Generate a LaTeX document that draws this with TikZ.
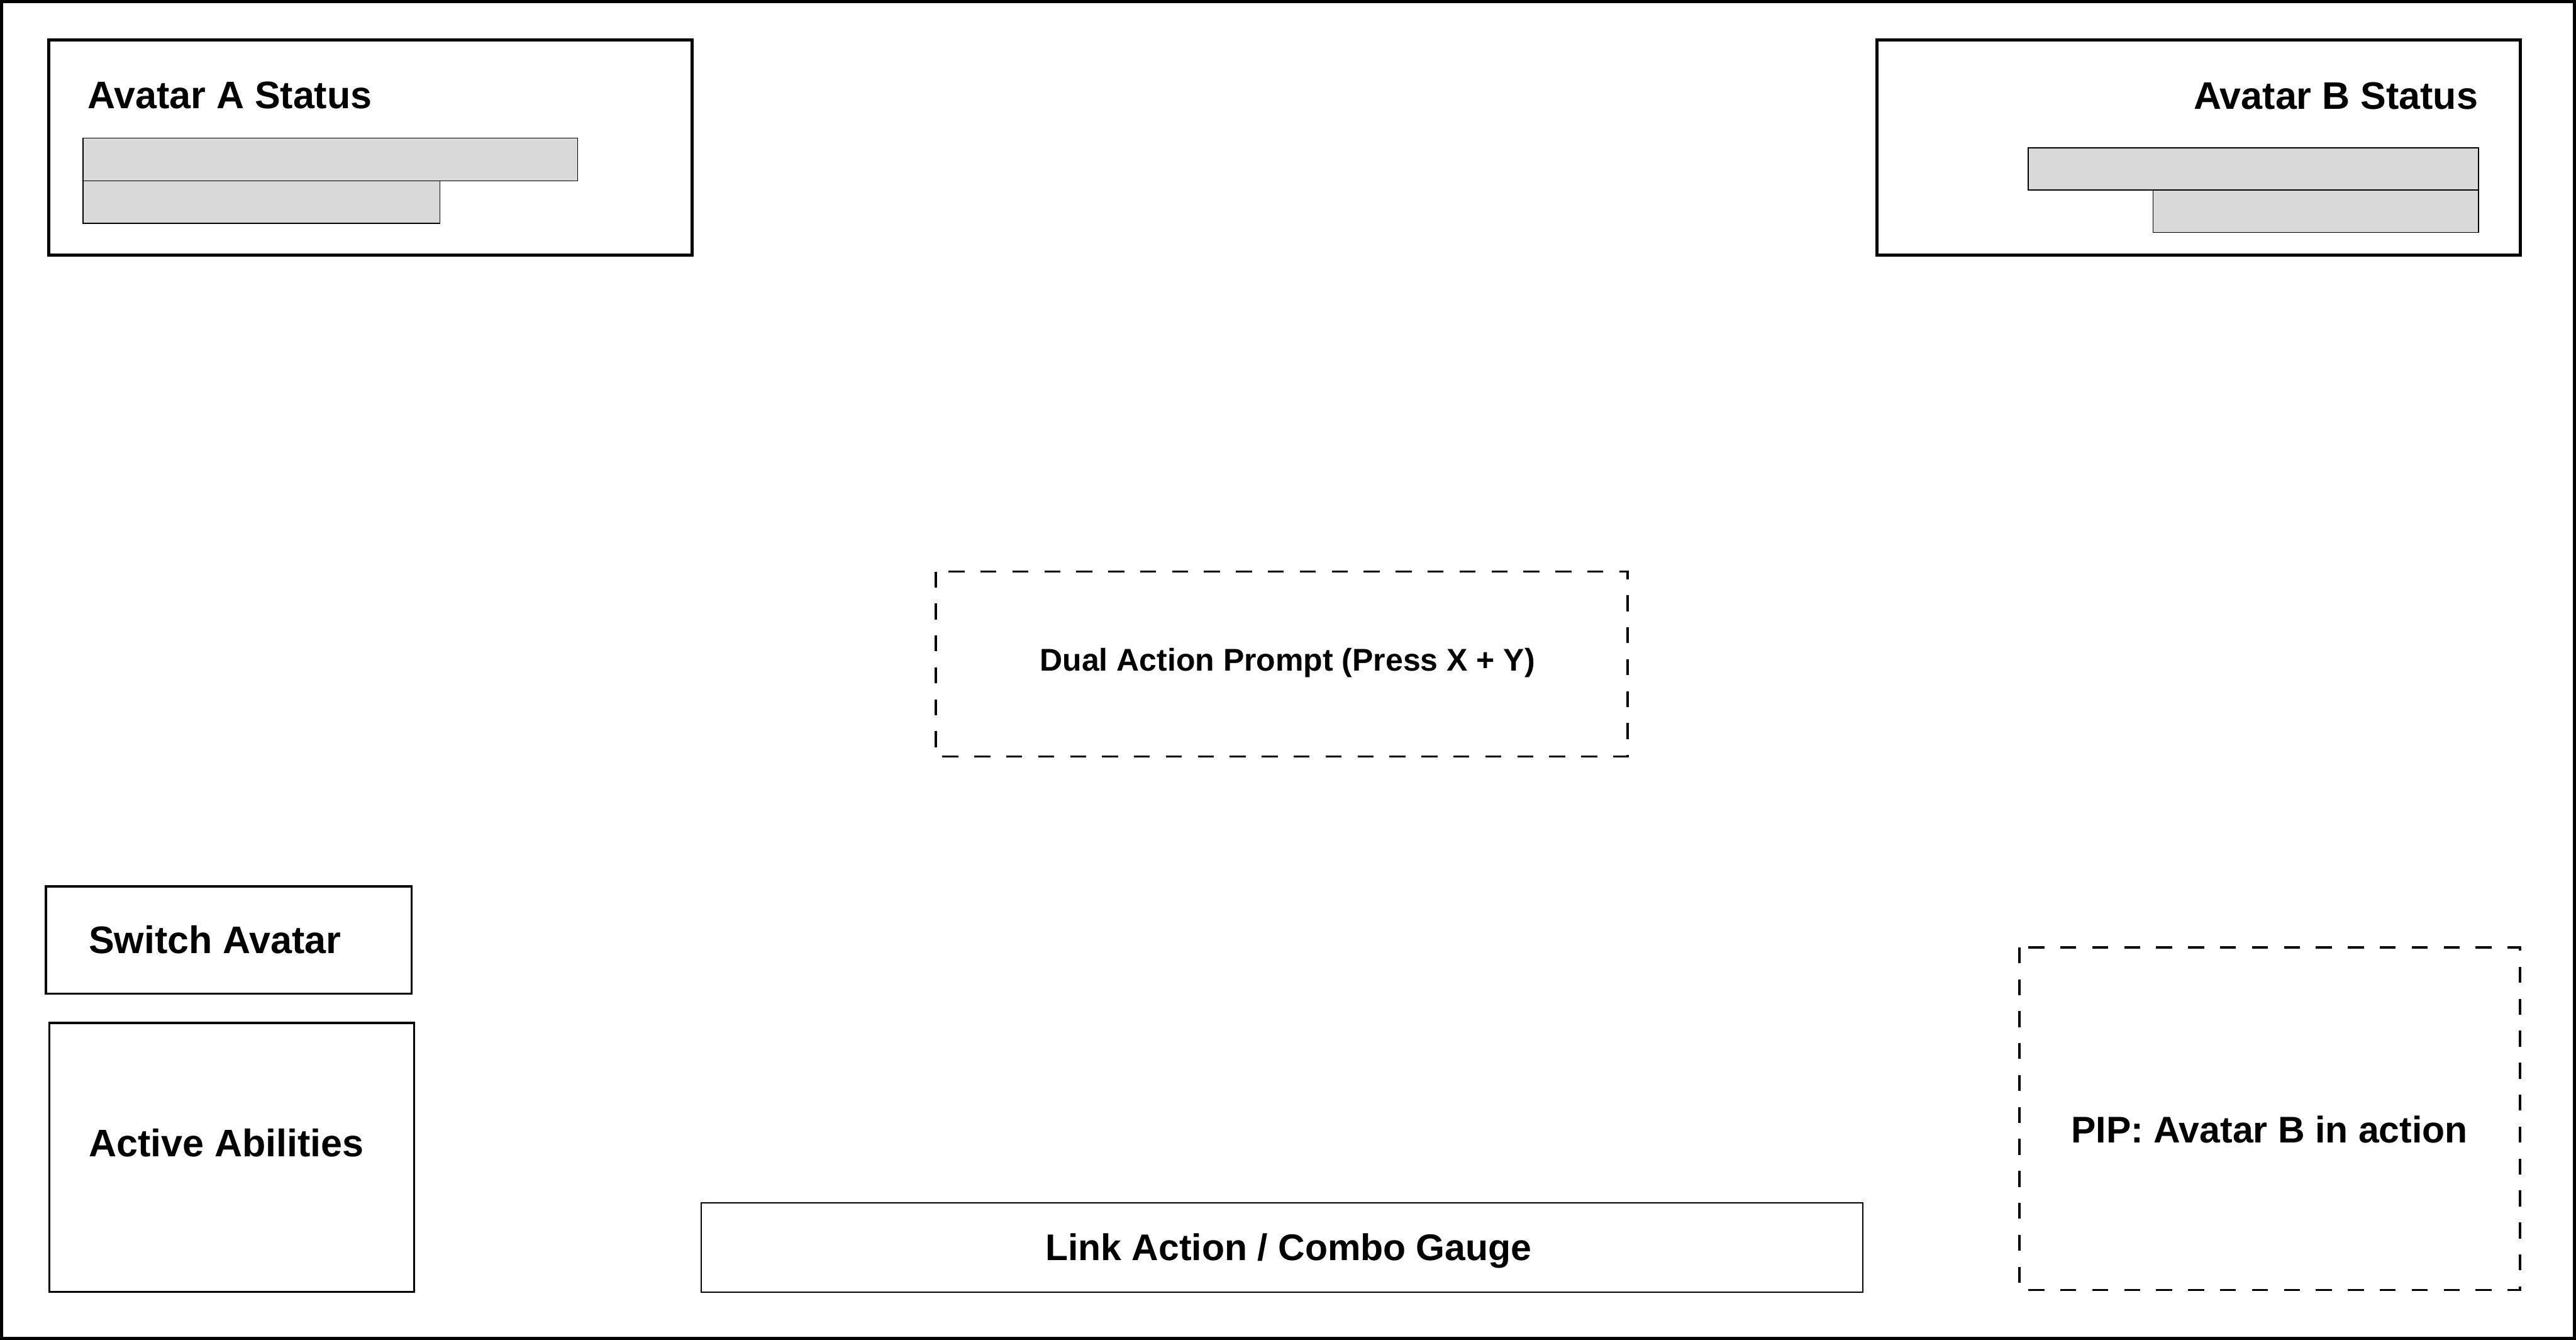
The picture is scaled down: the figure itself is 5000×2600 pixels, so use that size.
\documentclass[tikz,border=0pt]{standalone}
\usepackage{fontspec}
\setmainfont{Liberation Sans}
\begin{document}
\begin{tikzpicture}[x=1pt,y=-1pt,
  panel/.style={draw=black, line width=6pt, fill=none},
  mid/.style={draw=black, line width=4pt},
  thin/.style={draw=black, line width=2.5pt},
  bar/.style={draw=black, line width=2pt, fill=barfill},
  dashbox/.style={draw=black, line width=4.5pt, dash pattern=on 31pt off 31pt},
  lbl/.style={font=\bfseries\fontsize{72}{80}\selectfont, inner sep=0pt},
  wlbl/.style={font=\bfseries\fontsize{74.5}{82}\selectfont, inner sep=0pt},
  slbl/.style={font=\bfseries\fontsize{61}{70}\selectfont, inner sep=0pt}]
\definecolor{barfill}{HTML}{D9D9D9}
\useasboundingbox (0,0) rectangle (5000,2600);
\fill[white] (0,0) rectangle (5000,2600);
\draw[line width=6pt] (3,3) rectangle (4997,2597);
% Avatar A
\draw[panel] (95,77) rectangle (1343,495);
\node[wlbl, anchor=base west] (atitle) at (170,210) {Avatar A Status};
\draw[bar] (161,268) rectangle (1121,351);
\draw[bar] (161,351) rectangle (854,433);
% Avatar B
\draw[panel] (3643,77) rectangle (4892,495);
\node[wlbl, anchor=base east] (btitle) at (4810,212) {Avatar B Status};
\draw[bar] (3937,287) rectangle (4811,369);
\draw[bar] (4179,369) rectangle (4811,451);
% Dual action
\draw[dashbox] (1816,1109) rectangle (3159,1468);
\node[slbl, anchor=base] (dual) at (2499,1302) {Dual Action Prompt (Press X + Y)};
% Switch avatar
\draw[mid] (89,1720) rectangle (799,1928);
\node[wlbl, anchor=base west] (switch) at (172,1850) {Switch Avatar};
% Active abilities
\draw[mid] (96,1985) rectangle (804,2507);
\node[wlbl, anchor=base west] (abil) at (172,2244) {Active Abilities};
% Link gauge
\draw[thin] (1361,2334) rectangle (3616,2507);
\node[lbl, anchor=base] (link) at (2501,2446) {Link Action / Combo Gauge};
% PIP
\draw[dashbox] (3920,1838) rectangle (4891,2503);
\node[lbl, anchor=base] (pip) at (4405,2217) {PIP: Avatar B in action};
\end{tikzpicture}
\end{document}
